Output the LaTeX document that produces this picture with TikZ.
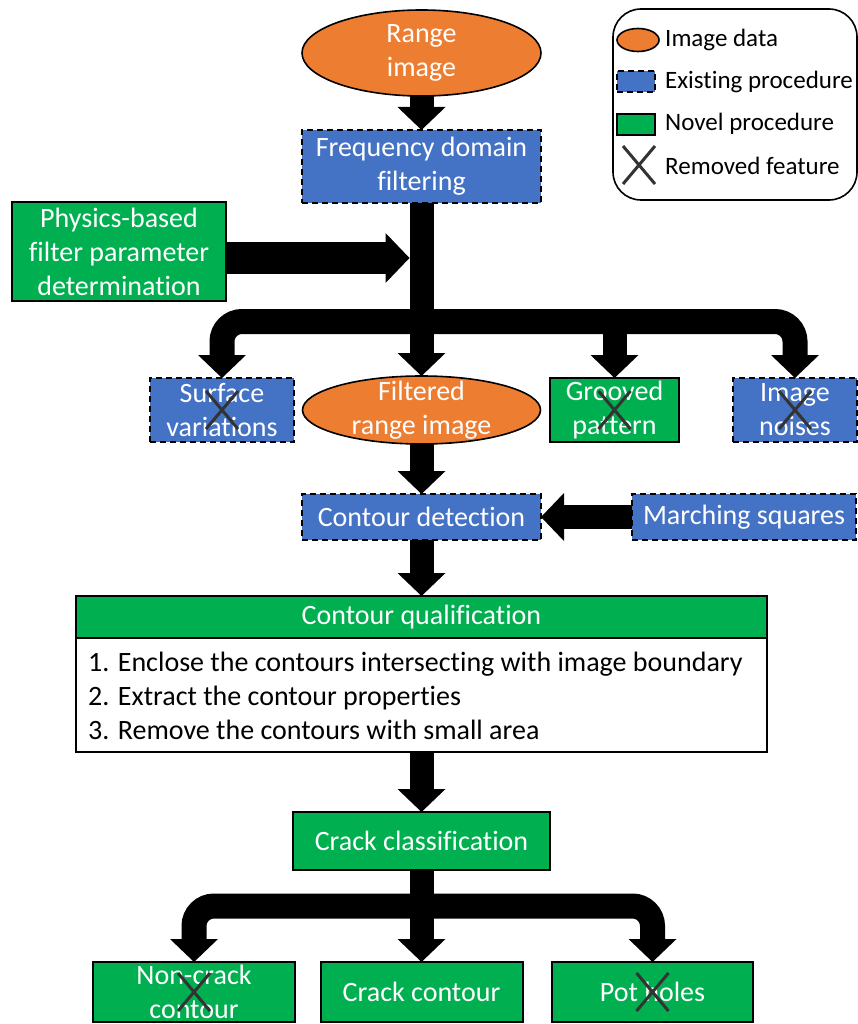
\documentclass[tikz,border=0pt]{standalone}
\usepackage{fontspec}
\setmainfont{Carlito}[Ligatures={TeX,NoCommon}]
\usetikzlibrary{calc,shapes.geometric,backgrounds}
\definecolor{dataorange}{HTML}{ED7D31}
\definecolor{oldblue}{HTML}{4472C4}
\definecolor{newgreen}{HTML}{00B050}
\definecolor{xgray}{HTML}{333333}

% block-arrow heads: tip at the given point
\newcommand\headS[1]{\fill ($(#1)+(-24,-23)$) -- (#1) -- ($(#1)+(24,-23)$) -- cycle;}
\newcommand\headW[1]{\fill ($(#1)+(23,-24)$) -- (#1) -- ($(#1)+(23,24)$) -- cycle;}
\newcommand\headE[1]{\fill ($(#1)+(-24,-25)$) -- (#1) -- ($(#1)+(-24,25)$) -- cycle;}
% "removed" cross over a node
\newcommand\strikex[1]{\draw[xmark] ($(#1)+(-16,-19)$) -- ($(#1)+(16,19)$) ($(#1)+(16,-19)$) -- ($(#1)+(-16,19)$);}

\begin{document}
\begin{tikzpicture}[x=1pt,y=-1pt,
  txt/.style={text=white,font=\fontsize{28}{34}\selectfont,align=center,inner sep=0pt,outer sep=0pt},
  datashape/.style={ellipse,draw=black,line width=1.6pt,fill=dataorange,inner sep=0pt,outer sep=0pt},
  oldproc/.style={txt,rectangle,draw=black,line width=2pt,dash pattern=on 6pt off 4pt,fill=oldblue},
  newproc/.style={txt,rectangle,draw=black,line width=2pt,fill=newgreen},
  shaft/.style={line width=24pt},
  fatshaft/.style={line width=32pt},
  bar/.style={line width=25pt,rounded corners=20pt},
  xmark/.style={draw=xgray,line width=3pt},
  legtxt/.style={font=\fontsize{25}{30}\selectfont,anchor=west,inner sep=0pt,text=black}
]
\useasboundingbox (0,0) rectangle (858,1024);

% ---- main chain ----
\node[datashape,minimum width=239pt,minimum height=86pt] (range) at (421.5,53) {};
\node[txt] (rangelbl) at (range.center) {Range\\image};
\node[oldproc,minimum width=239pt,minimum height=73pt] (freq) at (421.5,166.5) {Frequency domain\\filtering};
\node[newproc,minimum width=214pt,minimum height=99pt] (phys) at (119,251.5) {Physics-based\\filter parameter\\determination};

\node[oldproc,minimum width=144pt,minimum height=64pt] (surf) at (222,410) {Surface\\variations};
\node[datashape,minimum width=238pt,minimum height=68pt] (filt) at (421.5,410) {};
\node[txt] (filtlbl) at (filt.center) {Filtered\\range image};
\node[newproc,minimum width=129pt,minimum height=64pt] (groove) at (614.5,410) {Grooved\\pattern};
\node[oldproc,minimum width=124pt,minimum height=64pt] (noise) at (795,410) {Image\\noises};

\node[oldproc,minimum width=239pt,minimum height=46pt] (detect) at (421.5,517) {Contour detection};
\node[oldproc,minimum width=224pt,minimum height=46pt] (march) at (744,517) {Marching squares};

\node[newproc,minimum width=691pt,minimum height=42pt] (qualhead) at (421.5,617) {Contour qualification};
\node[rectangle,draw=black,line width=2pt,fill=white,minimum width=691pt,minimum height=114pt,inner sep=0pt,outer sep=0pt] (qualbody) at (421.5,695) {};
\node[anchor=west,align=left,inner sep=0pt,font=\fontsize{28}{34}\selectfont] (qualtxt) at ($(qualbody.west)+(12,1)$)
  {1. Enclose the contours intersecting with image boundary\\2. Extract the contour properties\\3. Remove the contours with small area};

\node[newproc,minimum width=257pt,minimum height=58pt] (classify) at (421.5,841) {Crack classification};
\node[newproc,minimum width=202pt,minimum height=60pt] (noncrack) at (194,992) {Non-crack\\contour};
\node[newproc,minimum width=202pt,minimum height=60pt] (crack) at (421.5,992) {Crack contour};
\node[newproc,minimum width=201pt,minimum height=60pt] (pothole) at (652.5,992) {Pot holes};

% ---- removed features ----
\strikex{surf.center}
\strikex{groove.center}
\strikex{noise.center}
\strikex{noncrack.center}
\strikex{pothole.center}

% ---- legend ----
\node[draw=black,line width=1.6pt,rounded corners=28pt,fill=white,minimum width=244pt,minimum height=191pt,inner sep=0pt] (legend) at (735,104.5) {};
\node[datashape,minimum width=42pt,minimum height=23pt] (legdata) at (638,40) {};
\node[legtxt] (legdatatxt) at (665,40) {Image data};
\node[oldproc,minimum width=38pt,minimum height=21pt] (legold) at (636,82) {};
\node[legtxt] (legoldtxt) at (665,82) {Existing procedure};
\node[newproc,minimum width=38pt,minimum height=21pt] (legnew) at (636,125) {};
\node[legtxt] (legnewtxt) at (665,124) {Novel procedure};
\coordinate (legx) at (639,165);
\strikex{legx}
\node[legtxt] (legxtxt) at (665,166) {Removed feature};

% ---- connectors ----
\begin{pgfonlayer}{background}
  \draw[shaft] ($(range.south)+(0,-5)$) -- ($(freq.north)+(0,-22)$);
  \headS{freq.north}
  % trunk and first fork
  \draw[shaft] (freq.south) -- ($(filt.north)+(0,-22)$);
  \headS{filt.north}
  \coordinate (fork1) at (421.5,321.5);
  \draw[bar] ($(surf.north)+(0,-22)$) |- (fork1) -| ($(noise.north)+(0,-22)$);
  \draw[shaft] (groove.north |- fork1) -- ($(groove.north)+(0,-22)$);
  \headS{surf.north}
  \headS{groove.north}
  \headS{noise.north}
  % filter parameters feed into the trunk
  \coordinate (feed) at (409.5,258);
  \draw[fatshaft] ($(phys.east)+(0,6.5)$) -- ($(feed)+(-23,0)$);
  \headE{feed}
  % contour detection
  \draw[shaft] ($(filt.south)+(0,-5)$) -- ($(detect.north)+(0,-22)$);
  \headS{detect.north}
  \draw[shaft] (march.west) -- ($(detect.east)+(22,0)$);
  \headW{detect.east}
  \draw[shaft] (detect.south) -- ($(qualhead.north)+(0,-22)$);
  \headS{qualhead.north}
  \draw[shaft] (qualbody.south) -- ($(classify.north)+(0,-22)$);
  \headS{classify.north}
  % second fork
  \coordinate (fork2) at (421.5,906);
  \draw[shaft] (classify.south) -- ($(crack.north)+(0,-22)$);
  \headS{crack.north}
  \draw[bar] ($(noncrack.north)+(0,-22)$) |- (fork2) -| ($(pothole.north)+(0,-22)$);
  \headS{noncrack.north}
  \headS{pothole.north}
\end{pgfonlayer}
\end{tikzpicture}
\end{document}
